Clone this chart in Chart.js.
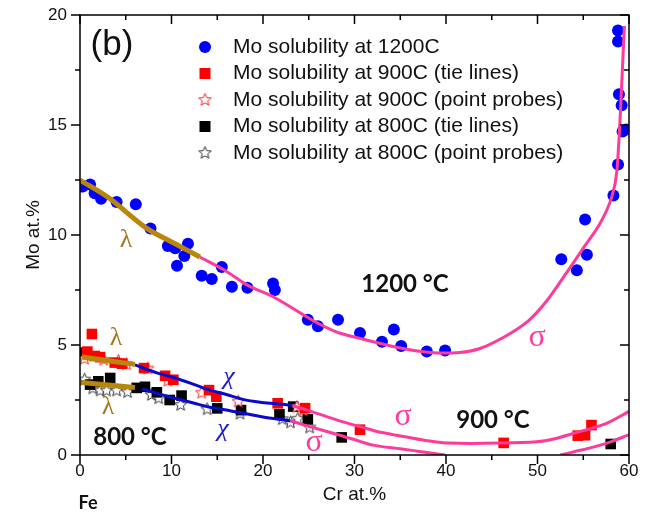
<!DOCTYPE html>
<html>
<head>
<meta charset="utf-8">
<script src="https://cdn.jsdelivr.net/npm/chart.js"></script>
<style>
body{margin:0;background:#fff;}
#wrap{width:650px;height:518px;}
</style>
</head>
<body>
<div id="wrap"><canvas id="chart" width="650" height="518"></canvas></div>
<script>
// measured points, [Cr at.%, Mo at.%]
var mo1200 = [[0.3,12.2],[1.1,12.3],[1.6,11.9],[2.3,11.65],[4.0,11.5],[6.1,11.4],[7.7,10.3],[9.6,9.5],[10.4,9.4],[10.6,8.6],[11.4,9.05],[11.8,9.6],[13.3,8.15],[14.4,8.0],[15.5,8.55],[16.6,7.65],[18.3,7.6],[21.1,7.8],[21.3,7.5],[24.9,6.15],[26.0,5.85],[28.2,6.15],[30.6,5.55],[33.0,5.15],[34.3,5.7],[35.1,4.95],[37.9,4.7],[39.9,4.75],[52.6,8.9],[54.3,8.4],[55.2,10.7],[55.4,9.1],[58.3,11.8],[58.8,13.2],[58.8,19.3],[58.8,18.8],[58.9,16.4],[59.2,15.9],[59.3,14.7],[59.7,14.8]];
var mo900tie = [[1.3,5.5],[0.8,4.7],[1.6,4.5],[2.2,4.45],[3.8,4.2],[4.6,4.15],[7.0,3.95],[9.3,3.6],[10.2,3.42],[14.1,2.95],[14.9,2.65],[21.6,2.35],[24.6,2.13],[30.6,1.15],[46.3,0.55],[54.4,0.88],[55.2,0.9],[55.9,1.36]];
var mo900probe = [[0.5,4.4],[1.0,4.6],[2.6,4.35],[4.2,4.3],[5.1,4.15],[7.4,3.95],[9.6,3.4],[13.3,2.85],[17.3,2.45],[23.7,2.2],[24.4,2.05]];
var mo800tie = [[0.4,4.65],[1.1,3.2],[2.0,3.35],[3.3,3.5],[6.2,3.05],[7.1,3.1],[8.4,2.85],[9.8,2.5],[11.1,2.7],[15.0,2.12],[17.6,2.04],[21.8,1.85],[23.3,2.2],[24.9,1.62],[28.6,0.8],[58.0,0.5]];
var mo800probe = [[0.5,3.45],[1.4,3.05],[2.2,2.95],[2.9,2.95],[4.0,2.95],[5.2,2.88],[7.8,2.75],[8.6,2.6],[11.0,2.3],[13.9,2.1],[17.5,1.9],[22.1,1.65],[23.0,1.5],[23.8,1.67],[25.1,1.27]];

// phase boundary curves
var lambda1200 = [[0,12.5],[3.1,11.7],[7.3,10.3],[10.4,9.6],[13.1,9.0]];
var sigma1200 = [[13.1,9.0],[15.8,8.4],[18.4,7.7],[21.3,7.15],[25.5,6.1],[28,5.6],[30.6,5.3],[34.6,4.9],[38.3,4.66],[41.5,4.66],[43.7,4.84],[46.5,5.4],[49,6.1],[51,7.0],[53.2,8.3],[55,9.4],[56.8,10.5],[58.1,11.7],[58.7,13.0],[59.5,19.5]];
var lambda900 = [[0.2,4.45],[6,4.12]];
var chi900 = [[6,4.1],[8.5,3.72],[10.4,3.5],[12.5,3.2],[14.2,2.95],[16,2.75],[17.8,2.53],[19.7,2.4],[21.5,2.33],[23.2,2.25]];
var sigma900 = [[23.2,2.25],[25.5,1.95],[28.4,1.55],[30.5,1.3],[33,1.02],[35.7,0.82],[38,0.65],[40.4,0.54],[45.9,0.54],[49.9,0.6],[52,0.75],[53.9,0.98],[55.8,1.2],[57.6,1.45],[60,1.98]];
var lambda800 = [[0.2,3.3],[6,3.07]];
var chi800 = [[6.8,3.0],[8.6,2.78],[10.4,2.58],[12.5,2.35],[14.2,2.17],[15.8,2.06],[17.8,1.9],[20,1.73],[22.1,1.6],[23,1.55]];
var sigma800 = [[23,1.55],[25,1.3],[28.4,0.9],[30.6,0.62],[32,0.45],[35,0.28],[37.5,0.14],[39.9,0],[46,null],[52.5,0],[54,0.15],[56.1,0.36],[58,0.6],[60,0.92]];

var legendLabels = ["Mo solubility at 1200C", "Mo solubility at 900C (tie lines)", "Mo solubility at 900C (point probes)", "Mo solubility at 800C (tie lines)", "Mo solubility at 800C (point probes)"];

var PINK = "#ff3a9a", BROWN = "#b8860b", BLUE = "#0a0acc";

function pts(arr) {
    return arr.map(function (p) { return {x: p[0], y: p[1]}; });
}

function makeStar(color) {
    var c = document.createElement("canvas");
    c.width = 15; c.height = 15;
    var g = c.getContext("2d");
    g.beginPath();
    for (var i = 0; i < 10; i++) {
        var r = i % 2 ? 2.9 : 6.5;
        var a = -Math.PI / 2 + i * Math.PI / 5;
        g.lineTo(7.5 + r * Math.cos(a), 8 + r * Math.sin(a));
    }
    g.closePath();
    g.fillStyle = "#fff";
    g.fill();
    g.lineWidth = 1;
    g.strokeStyle = color;
    g.stroke();
    return c;
}
var redStar = makeStar("#ff2020");
var blackStar = makeStar("#333");

function curve(data, color, width) {
    return {type: "line", data: pts(data), borderColor: color, borderWidth: width, pointRadius: 0, tension: 0.3, fill: false, spanGaps: false};
}

// frame, ticks, legend and labels
var decor = {
    id: "decor",
    afterDraw: function (chart) {
        var ctx = chart.ctx, a = chart.chartArea;
        var xs = chart.scales.x, ys = chart.scales.y;
        ctx.save();
        ctx.strokeStyle = "#000";
        ctx.lineWidth = 1.5;
        ctx.strokeRect(a.left, a.top, a.right - a.left, a.bottom - a.top);
        ctx.beginPath();
        for (var v = 0; v <= 60; v += 5) {
            var px = xs.getPixelForValue(v);
            var len = v % 10 === 0 ? 9 : 5;
            ctx.moveTo(px, a.bottom); ctx.lineTo(px, a.bottom + len);
            ctx.moveTo(px, a.top); ctx.lineTo(px, a.top + len);
        }
        for (var w = 0; w <= 20; w += 2.5) {
            var py = ys.getPixelForValue(w);
            var l2 = w % 5 === 0 ? 9 : 5;
            ctx.moveTo(a.left, py); ctx.lineTo(a.left - l2, py);
            ctx.moveTo(a.right, py); ctx.lineTo(a.right - l2, py);
        }
        ctx.stroke();

        // legend
        var ly = [47, 73.5, 100, 126.5, 153];
        var lx = 205;
        ctx.font = "21px 'Liberation Sans', Arial, sans-serif";
        ctx.textBaseline = "middle";
        ctx.textAlign = "left";
        for (var i = 0; i < legendLabels.length; i++) {
            var y = ly[i];
            if (i === 0) {
                ctx.fillStyle = "#0000ff";
                ctx.beginPath(); ctx.arc(lx, y, 6, 0, Math.PI * 2); ctx.fill();
            } else if (i === 1 || i === 3) {
                ctx.fillStyle = i === 1 ? "#ff0000" : "#000";
                ctx.fillRect(lx - 5.5, y - 5.5, 11, 11);
            } else {
                ctx.drawImage(i === 2 ? redStar : blackStar, lx - 7.5, y - 8);
            }
            ctx.fillStyle = "#111";
            ctx.fillText(legendLabels[i], lx + 28, y);
        }

        // annotations
        ctx.textAlign = "center";
        ctx.fillStyle = "#111";
        ctx.font = "35px 'Liberation Sans', Arial, sans-serif";
        ctx.fillText("(b)", 112, 45);
        ctx.font = "bold 24px Lato, sans-serif";
        ctx.fillText("1200 \u00B0C", 405, 284);
        ctx.fillText("900 \u00B0C", 493, 420);
        ctx.fillText("800 \u00B0C", 130, 437);
        ctx.font = "bold 18px Lato, sans-serif";
        ctx.fillText("Fe", 88, 503);

        ctx.font = "26px 'Liberation Serif', serif";
        ctx.fillStyle = "#a8761a";
        ctx.fillText("\u03BB", 126, 240);
        ctx.fillText("\u03BB", 116, 338);
        ctx.fillText("\u03BB", 108, 407);
        ctx.font = "italic 26px 'Liberation Serif', serif";
        ctx.fillStyle = "#1a1acc";
        ctx.fillText("\u03C7", 229, 377);
        ctx.fillText("\u03C7", 223, 429);
        ctx.font = "32px 'Liberation Serif', serif";
        ctx.fillStyle = PINK;
        ctx.fillText("\u03C3", 537, 338);
        ctx.fillText("\u03C3", 403, 417);
        ctx.fillText("\u03C3", 314, 443);
        ctx.restore();
    }
};

new Chart(document.getElementById("chart"), {
    type: "scatter",
    data: {
        datasets: [
            curve(lambda1200, BROWN, 5),
            curve(sigma1200, PINK, 3),
            curve(lambda900, BROWN, 5),
            curve(lambda800, BROWN, 5),
            curve(chi900, BLUE, 3),
            curve(chi800, BLUE, 3),
            curve(sigma900, PINK, 3),
            curve(sigma800, PINK, 3),
            {label: legendLabels[0], data: pts(mo1200), pointStyle: "circle", pointRadius: 6, backgroundColor: "#0000ff", borderWidth: 0},
            {label: legendLabels[1], data: pts(mo900tie), pointStyle: "rect", pointRadius: 7.5, backgroundColor: "#ff0000", borderWidth: 0},
            {label: legendLabels[2], data: pts(mo900probe), pointStyle: redStar, pointRadius: 7},
            {label: legendLabels[3], data: pts(mo800tie), pointStyle: "rect", pointRadius: 7.5, backgroundColor: "#000", borderWidth: 0},
            {label: legendLabels[4], data: pts(mo800probe), pointStyle: blackStar, pointRadius: 7}
        ]
    },
    options: {
        responsive: false,
        animation: false,
        layout: {padding: {left: 10, right: 21, top: 15, bottom: 0}},
        plugins: {legend: {display: false}, tooltip: {enabled: false}},
        scales: {
            x: {
                type: "linear", min: 0, max: 60,
                afterFit: function (s) { s.height = 63; },
                border: {display: false},
                grid: {display: false, drawTicks: false},
                ticks: {stepSize: 10, padding: 6, color: "#111", font: {family: "'Liberation Sans', Arial", size: 17}},
                title: {display: true, text: "Cr at.%", color: "#111", padding: {top: 4, bottom: 12}, font: {family: "'Liberation Sans', Arial", size: 19}}
            },
            y: {
                type: "linear", min: 0, max: 20,
                afterFit: function (s) { s.width = 70; },
                border: {display: false},
                grid: {display: true, drawOnChartArea: false, drawTicks: true, tickLength: 10, tickColor: "rgba(0,0,0,0)"},
                ticks: {stepSize: 5, padding: 3, color: "#111", font: {family: "'Liberation Sans', Arial", size: 17}},
                title: {display: true, text: "Mo at.%", color: "#111", padding: {top: 12, bottom: 4}, font: {family: "'Liberation Sans', Arial", size: 19}}
            }
        }
    },
    plugins: [decor]
});
</script>
</body>
</html>
